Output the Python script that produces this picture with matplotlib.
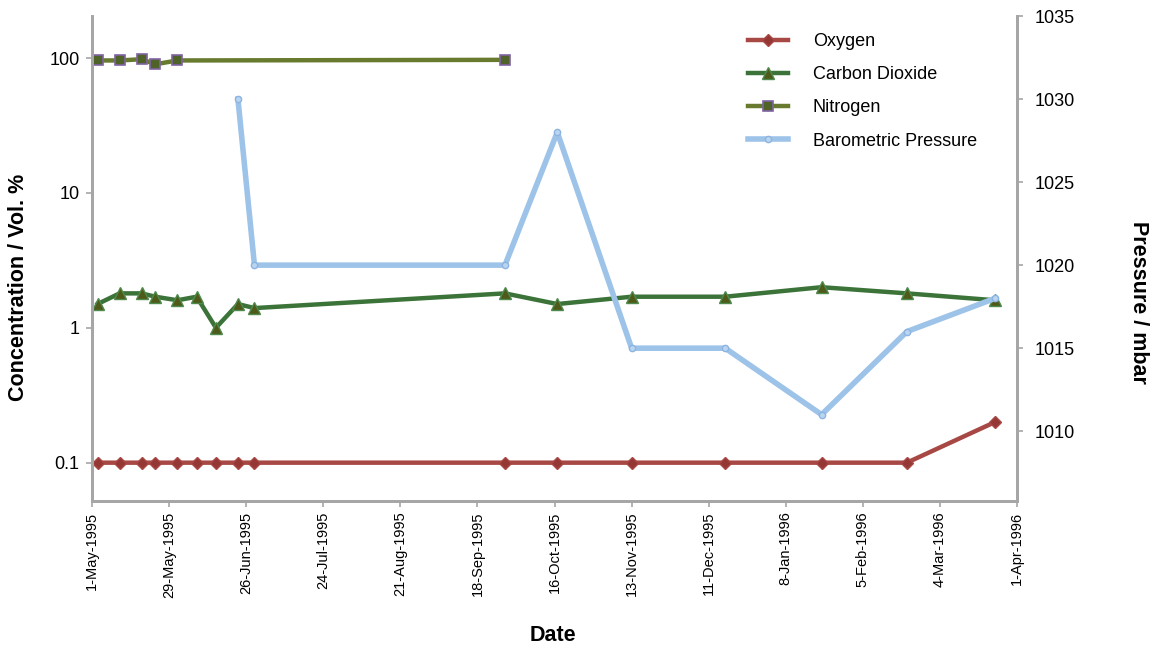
import matplotlib
matplotlib.use("Agg")
import matplotlib.pyplot as plt
import matplotlib.ticker as mticker
import pandas as pd

plt.rcParams["font.family"] = ["Liberation Sans", "DejaVu Sans"]

# sampling dates
early_dates = ["1995-05-03", "1995-05-11", "1995-05-19", "1995-05-24", "1995-06-01",
               "1995-06-08", "1995-06-15", "1995-06-23", "1995-06-29"]
late_dates = ["1995-09-28", "1995-10-17", "1995-11-13", "1995-12-17", "1996-01-21",
              "1996-02-21", "1996-03-24"]

oxygen_dates = pd.to_datetime(early_dates + late_dates)
oxygen = [0.1, 0.1, 0.1, 0.1, 0.1, 0.1, 0.1, 0.1, 0.1,
          0.1, 0.1, 0.1, 0.1, 0.1, 0.1, 0.2]

co2_dates = pd.to_datetime(early_dates + late_dates)
co2 = [1.5, 1.8, 1.8, 1.7, 1.6, 1.7, 1.0, 1.5, 1.4,
       1.8, 1.5, 1.7, 1.7, 2.0, 1.8, 1.6]

nitrogen_dates = pd.to_datetime(["1995-05-03", "1995-05-11", "1995-05-19", "1995-05-24",
                                 "1995-06-01", "1995-09-28"])
nitrogen = [96, 96, 98, 90, 96, 97]

pressure_dates = pd.to_datetime(["1995-06-23", "1995-06-29"] + late_dates)
pressure = [1030, 1020, 1020, 1028, 1015, 1015, 1011, 1016, 1018]

tick_dates = pd.date_range("1995-05-01", "1996-04-01", freq="28D")
tick_labels = [f"{d.day}-{d.strftime('%b-%Y')}" for d in tick_dates]

AXIS_GREY = "#A6A6A6"

fig = plt.figure(figsize=(11.59, 6.59), dpi=100)
ax = fig.add_axes([0.0794, 0.2398, 0.7981, 0.7359])
ax2 = ax.twinx()

l1, = ax.plot(oxygen_dates, oxygen, color="#A84844", lw=3.2, marker="D", ms=6.5,
              mfc="#953735", mec="#A84844", label="Oxygen")
l2, = ax.plot(co2_dates, co2, color="#3B7339", lw=3.2, marker="^", ms=9,
              mfc="#4F5A1A", mec="#4E8A4C", label="Carbon Dioxide")
l3, = ax.plot(nitrogen_dates, nitrogen, color="#677A2E", lw=3.2, marker="s", ms=7.5,
              mfc="#4F6228", mec="#8064A2", mew=1.2, label="Nitrogen")
l4, = ax2.plot(pressure_dates, pressure, color="#9DC3E9", lw=4, marker="o", ms=4.5,
               mfc="#B9D5F0", mec="#8DB3E2", label="Barometric Pressure")

ax.set_yscale("log")
ax.set_ylim(0.052, 205)
ax.yaxis.set_major_locator(mticker.FixedLocator([0.1, 1, 10, 100]))
ax.yaxis.set_major_formatter(mticker.FixedFormatter(["0.1", "1", "10", "100"]))
ax.yaxis.set_minor_locator(mticker.NullLocator())

ax.set_xlim(tick_dates[0], tick_dates[-1])
ax.set_xticks(tick_dates)
ax.set_xticklabels(tick_labels, rotation=90)

ax2.set_ylim(1005.8, 1035)
ax2.set_yticks([1010, 1015, 1020, 1025, 1030, 1035])

for a in (ax, ax2):
    for sp in a.spines.values():
        sp.set_color(AXIS_GREY)
        sp.set_linewidth(2)
    a.spines["top"].set_visible(False)
    a.tick_params(colors=AXIS_GREY, labelcolor="black", labelsize=13, length=4, width=1.2)
ax.tick_params(axis="x", labelsize=10.5)
ax.tick_params(axis="y", pad=5)
ax2.tick_params(axis="y", pad=9)

ax.set_xlabel("Date", fontsize=15.5, fontweight="bold", va="center")
ax.xaxis.set_label_coords(0.498, -0.278)
ax.set_ylabel("Concentration / Vol. %", fontsize=15.5, fontweight="bold", va="center")
ax.yaxis.set_label_coords(-0.080, 0.44)
ax2.set_ylabel("Pressure / mbar", fontsize=15.5, fontweight="bold", rotation=-90, va="center")
ax2.yaxis.set_label_coords(1.131, 0.41)

leg = ax.legend(handles=[l1, l2, l3, l4], loc="upper left", bbox_to_anchor=(0.709, 0.965),
                frameon=False, fontsize=13, handlelength=2.2, handletextpad=1.4,
                labelspacing=0.9, borderaxespad=0, borderpad=0)

fig.savefig("out.png", dpi=100)
